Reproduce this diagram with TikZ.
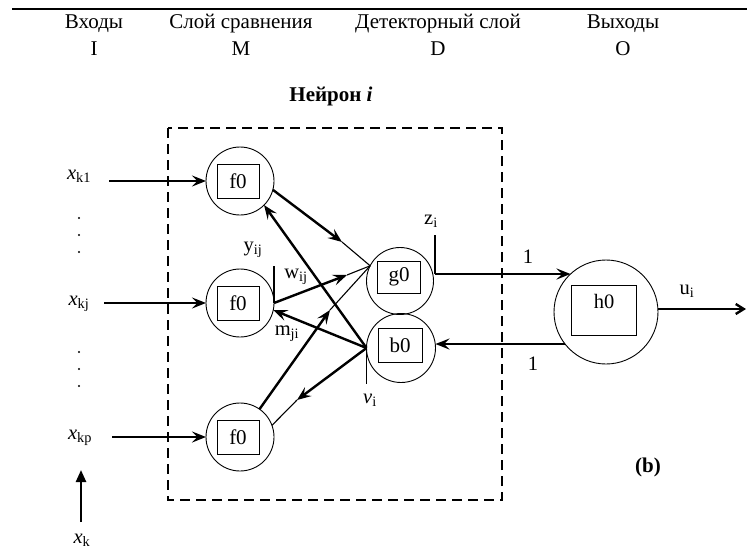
\documentclass[tikz,border=0pt]{standalone}
\usepackage{fontspec}
\setmainfont{Liberation Serif}
\usetikzlibrary{arrows.meta,calc}
\begin{document}
\begin{tikzpicture}[x=1pt,y=-1pt,
  every node/.style={inner sep=0pt,outer sep=0pt},
  hdr/.style={font=\fontsize{21}{24}\selectfont},
  lbl/.style={font=\fontsize{20.5}{22}\selectfont},
  neuron/.style={draw,line width=0.9pt,circle,minimum size=68pt},
  fbox/.style={draw,line width=0.9pt,minimum width=42pt,minimum height=34pt,font=\fontsize{21}{22}\selectfont},
  thick line/.style={line width=2.4pt},
  thin line/.style={line width=1.1pt},
  barb/.style={-{Stealth[length=14pt,width=11pt,inset=5.5pt]}},
  tick/.style={line width=1.1pt}]
\useasboundingbox (0,0) rectangle (747,552);

% rule and layer captions
\draw[line width=1.2pt] (12,9) -- (747,9);
\node[hdr] (hI) at (94,24) {Входы};
\node[hdr] (hM) at (241,24) {Слой сравнения};
\node[hdr] (hD) at (438,24) {Детекторный слой};
\node[hdr] (hO) at (623,24) {Выходы};
\node[hdr] (lI) at (94,49) {I};
\node[hdr] (lM) at (241,49) {M};
\node[hdr] (lD) at (438,49) {D};
\node[hdr] (lO) at (623,49) {O};
\node[font=\fontsize{21}{24}\selectfont\bfseries] (title) at (331,96) {Нейрон \textit{i}};

% boundary of neuron i
\draw[line width=2.6pt,dash pattern=on 10pt off 6pt] (168,128) rectangle (502,500);

% comparison layer
\foreach \n/\y in {1/181,2/303,3/437}{
  \node[neuron] (fc\n) at (240,\y) {};
  \node[fbox] (fb\n) at (238,\y) {f0};
}
% detector layer
\node[neuron,minimum size=67pt] (gc) at (400,281) {};
\node[fbox,minimum width=43pt,minimum height=32pt] (gb) at (399,277) {g0};
\node[neuron,minimum size=69pt] (bc) at (401,348) {};
\node[fbox,minimum width=44pt,minimum height=34pt] (bb) at (400,345) {b0};
% output
\node[neuron,minimum size=104pt] (hc) at (606,312) {};
\node[draw,line width=0.9pt,minimum width=65pt,minimum height=50pt] (hb) at (604,310) {};
\node[lbl] (ht) at (604,301) {h0};

% inputs
\node[lbl] (x1) at (79,176) {\textit{x}\textsubscript{k1}};
\node[lbl] (x2) at (79,304) {\textit{x}\textsubscript{kj}};
\node[lbl] (x3) at (80,438) {\textit{x}\textsubscript{kp}};
\node[lbl] (xk) at (82,540) {\textit{x}\textsubscript{k}};
\coordinate (s1) at (109,181);
\coordinate (s2) at (104,303);
\coordinate (s3) at (112,437);
\draw[thick line,barb] (s1) -- (fc1.west);
\draw[thick line,barb] (s2) -- (fc2.west);
\draw[thick line,barb] (s3) -- (fc3.west);
\foreach \y in {218,235,252,352,369,386}{
  \fill (79,\y) circle (1.1pt);
}
\coordinate (ka) at (81,522);
\coordinate (kb) at (81,470);
\draw[thick line,-{Triangle[length=12pt,width=10pt]}] (ka) -- (kb);

% junction points
\coordinate (pg) at (gc.153);
\coordinate (pb) at (bc.west);
\coordinate (py) at (fc2.east);
\coordinate (mA) at (342,242);
\coordinate (mB) at (347,275);
\coordinate (mC) at (330,310);
\coordinate (mD) at (297,400);

% ticks
\coordinate (ty) at ($(py)+(0,-37)$);
\draw[tick] (ty) -- (py);
\coordinate (tv) at ($(pb)+(0,36)$);
\draw[tick] (pb) -- (tv);
\coordinate (zt) at (435,235);
\coordinate (zc) at (435,274);
\draw[thick line] (zt) -- (zc);

% connections
\draw[thick line,barb] (fc1.-15) -- (mA);
\draw[thin line] (mA) -- (pg);
\draw[thick line,barb] (py) -- (mB);
\draw[thin line] (mB) -- (pg);
\draw[thick line,barb] (fc3.55) -- (mC);
\draw[thin line] (mC) -- (pg);
\draw[thick line,barb] (pb) -- (fc2.-12);
\draw[thick line,barb] (pb) -- (fc1.-45);
\draw[thick line,barb] (pb) -- (mD);
\draw[thin line] (mD) -- (fc3.20);

\coordinate (hz) at (hc.-133);
\draw[thick line,barb] (zc) -- (zc -| hz);
\coordinate (hl) at (hc.218);
\draw[thick line,barb] (hl) -- (hl -| bc.east);
\coordinate (out) at (746,309);
\draw[thick line,-{Straight Barb[length=8pt,width=10pt]}] (hc.east |- out) -- (out);

% labels
\node[lbl] (lz) at (431,221) {z\textsubscript{i}};
\node[lbl] (l1a) at (528,257) {1};
\node[lbl] (l1b) at (533,364) {1};
\node[lbl] (lu) at (687,291) {u\textsubscript{i}};
\node[lbl] (lv) at (370,400) {\textit{v}\textsubscript{i}};
\node[lbl] (lyij) at (253,250) {y\textsubscript{ij}};
\node[lbl] (lwij) at (296,277) {w\textsubscript{ij}};
\node[lbl] (lmji) at (287,334) {m\textsubscript{ji}};
\node[font=\fontsize{21}{24}\selectfont\bfseries] (lb) at (648,467) {(b)};
\end{tikzpicture}
\end{document}
